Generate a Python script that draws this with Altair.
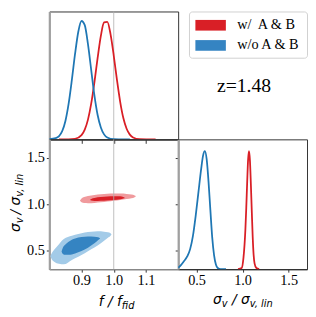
import altair as alt
import pandas as pd

SERIES = ["w/\u00a0 A & B", "w/o A & B"]
Z_LABEL = ["z=1.48"]
F_FID = [1.0]
F_TICKS = [0.9, 1.0, 1.1]
S_TICKS = [0.5, 1.0, 1.5]

# 1D posterior of f/f_fid (normalised to peak)
F_RED_X = [0.83, 0.86, 0.88, 0.90, 0.91, 0.92, 0.93, 0.94, 0.95, 0.96, 0.97, 0.98,
           0.99, 1.00, 1.01, 1.02, 1.03, 1.04, 1.05, 1.06, 1.08, 1.13]
F_RED_D = [0.0, 0.0005, 0.005, 0.036, 0.082, 0.166, 0.30, 0.48, 0.685, 0.87, 0.983, 0.988,
           0.885, 0.705, 0.50, 0.316, 0.177, 0.089, 0.040, 0.016, 0.002, 0.0]
F_BLUE_X = [0.80, 0.82, 0.84, 0.85, 0.86, 0.87, 0.88, 0.89, 0.90, 0.91, 0.92, 0.93,
            0.94, 0.95, 0.96, 0.97, 0.98, 1.00, 1.05]
F_BLUE_D = [0.001, 0.01, 0.07, 0.155, 0.30, 0.50, 0.72, 0.905, 0.995, 0.96, 0.80, 0.585,
            0.37, 0.205, 0.10, 0.042, 0.015, 0.001, 0.0]

# 1D posterior of sigma_v / sigma_v,lin
S_RED_X = [0.95, 0.99, 1.01, 1.03, 1.04, 1.05, 1.06, 1.07, 1.08, 1.09, 1.10, 1.11,
           1.12, 1.13, 1.15, 1.18]
S_RED_D = [0.0, 0.01, 0.10, 0.33, 0.52, 0.74, 0.93, 1.00, 0.92, 0.72, 0.49, 0.27,
           0.12, 0.05, 0.01, 0.0]
S_BLUE_X = [0.30, 0.33, 0.36, 0.40, 0.43, 0.46, 0.49, 0.52, 0.55, 0.57, 0.59, 0.61,
            0.63, 0.65, 0.67, 0.69, 0.71, 0.73, 0.76, 0.82]
S_BLUE_D = [0.012, 0.035, 0.065, 0.11, 0.17, 0.28, 0.45, 0.65, 0.85, 0.96, 1.00, 0.93,
            0.74, 0.50, 0.27, 0.12, 0.04, 0.01, 0.0, 0.0]

# 2D contours: f values with lower / upper sigma edge
RED_OUT_F = [0.895, 0.900, 0.908, 0.92, 0.94, 0.96, 0.98, 1.00, 1.02, 1.04, 1.055, 1.065, 1.069]
RED_OUT_LO = [1.038, 1.022, 1.013, 1.012, 1.015, 1.021, 1.029, 1.038, 1.047, 1.056, 1.066, 1.077, 1.087]
RED_OUT_HI = [1.038, 1.062, 1.078, 1.089, 1.100, 1.108, 1.113, 1.116, 1.116, 1.112, 1.105, 1.095, 1.087]
RED_IN_F = [0.926, 0.930, 0.94, 0.96, 0.98, 1.00, 1.02, 1.03, 1.035]
RED_IN_LO = [1.048, 1.040, 1.036, 1.038, 1.042, 1.047, 1.054, 1.061, 1.068]
RED_IN_HI = [1.048, 1.058, 1.068, 1.078, 1.084, 1.087, 1.086, 1.079, 1.068]
BLUE_OUT_F = [0.803, 0.808, 0.815, 0.83, 0.845, 0.87, 0.89, 0.91, 0.93, 0.95, 0.97, 0.982, 0.990, 0.993]
BLUE_OUT_LO = [0.44, 0.405, 0.38, 0.358, 0.352, 0.40, 0.435, 0.473, 0.515, 0.556, 0.606, 0.638, 0.660, 0.675]
BLUE_OUT_HI = [0.44, 0.475, 0.51, 0.57, 0.625, 0.66, 0.68, 0.695, 0.703, 0.708, 0.705, 0.698, 0.688, 0.675]
BLUE_IN_F = [0.838, 0.842, 0.85, 0.86, 0.88, 0.90, 0.92, 0.94, 0.952, 0.958]
BLUE_IN_LO = [0.49, 0.465, 0.455, 0.455, 0.47, 0.495, 0.532, 0.58, 0.615, 0.632]
BLUE_IN_HI = [0.49, 0.53, 0.565, 0.595, 0.63, 0.646, 0.653, 0.651, 0.645, 0.632]

# axis label pieces (math-style text)
F_LABEL_MAIN = "f / f"
F_LABEL_SUB = "fid"
S_LABEL_1, S_LABEL_2, S_LABEL_3, S_LABEL_4 = "σ", "v", " / σ", "v, lin"

RED, RED_L = "#d91f26", "#f09a9d"
BLUE, BLUE_D, BLUE_L = "#1f77b4", "#3584c2", "#a3cbe8"
LINE_COLORS = [RED, BLUE]
LIGHT_COLORS = [RED_L, BLUE_L]
SPINE_GRAY = "#a0a0a0"
DARK = "#333333"
SERIF = "Liberation Serif"

W, H_TOP, H_BOT = 131, 130, 132


def one(name, xs, ys, xc, yc):
    return pd.DataFrame({xc: xs, yc: ys, "series": name})


def cont(name, fs, lo, hi):
    return pd.DataFrame({"f": fs, "lo": lo, "hi": hi, "series": name})


f_df = pd.concat([one(SERIES[0], F_RED_X, F_RED_D, "f", "d"),
                  one(SERIES[1], F_BLUE_X, F_BLUE_D, "f", "d")])
s_df = pd.concat([one(SERIES[0], S_RED_X, S_RED_D, "s", "d"),
                  one(SERIES[1], S_BLUE_X, S_BLUE_D, "s", "d")])
out_df = pd.concat([cont(SERIES[0], RED_OUT_F, RED_OUT_LO, RED_OUT_HI),
                    cont(SERIES[1], BLUE_OUT_F, BLUE_OUT_LO, BLUE_OUT_HI)])
in_df = pd.concat([cont(SERIES[0], RED_IN_F, RED_IN_LO, RED_IN_HI),
                   cont(SERIES[1], BLUE_IN_F, BLUE_IN_LO, BLUE_IN_HI)])
fid_df = pd.DataFrame({"f": F_FID})
stick_df = pd.DataFrame({"t": S_TICKS})
z_df = pd.DataFrame({"label": Z_LABEL})

dark_scale = alt.Scale(domain=SERIES, range=[RED, BLUE_D])
fx_scale = alt.Scale(domain=[0.8, 1.2], nice=False, zero=False)
s_scale = alt.Scale(domain=[0.3, 1.7], nice=False, zero=False)


def label_layer(txt, x, y, size, align, angle=0):
    return alt.Chart(pd.DataFrame({"t": [txt]})).mark_text(
        font="DejaVu Sans", fontStyle="italic", fontSize=size, align=align,
        baseline="alphabetic", angle=angle, color="black"
    ).encode(text="t:N", x=alt.value(x), y=alt.value(y))


fid_rule = alt.Chart(fid_df).mark_rule(color="#b0b0b0", strokeWidth=0.8)

# ---- top-left: 1D f
tl_x = alt.X("f:Q", scale=fx_scale,
             axis=alt.Axis(values=F_TICKS, labels=False, title=None, tickSize=4,
                           tickColor=DARK, domainColor=DARK, domainWidth=1.2))
tl_y = alt.Y("d:Q", scale=alt.Scale(domain=[0, 1.075], nice=False),
             axis=alt.Axis(ticks=False, labels=False, title=None, domainColor=SPINE_GRAY, domainWidth=2.2))
tl_lines = [
    alt.Chart(f_df).transform_filter(alt.datum.series == name)
    .mark_line(strokeWidth=1.8, interpolate="monotone", clip=True, color=col)
    .encode(x=tl_x, y=tl_y)
    for name, col in zip(SERIES, LINE_COLORS)
]
tl = alt.layer(fid_rule.encode(x=tl_x), *tl_lines).properties(width=W, height=H_TOP)

# ---- top-right: annotation
tr = alt.Chart(z_df).mark_text(font=SERIF, fontSize=20, align="center", baseline="alphabetic",
                               color="black").encode(
    text="label:N", x=alt.value(67), y=alt.value(82)
).properties(width=W, height=H_TOP, view=alt.ViewBackground(strokeOpacity=0))

# ---- bottom-left: 2D contours
bl_x = alt.X("f:Q", scale=fx_scale,
             axis=alt.Axis(values=F_TICKS, format=".1f", title=None, tickSize=3, labelPadding=2,
                           tickColor=DARK, domainColor="#888888", domainWidth=1.2))
bl_y = alt.Y("hi:Q", scale=s_scale, stack=False,
             axis=alt.Axis(values=S_TICKS, format=".1f", title=None, tickSize=3, labelPadding=2,
                           tickColor=DARK, domainColor=SPINE_GRAY, domainWidth=2.2))
legend = alt.Legend(title=None, orient="none", legendX=142, legendY=0, zindex=5,
                    symbolType="M-2,-0.7H2V0.7H-2Z", symbolSize=240, symbolStrokeWidth=0,
                    symbolOffset=8, symbolOpacity=1, labelFont=SERIF, labelFontSize=14.5,
                    labelColor="black", labelOffset=19, padding=6, rowPadding=5.5,
                    strokeColor="#d0d0d0", cornerRadius=3, fillColor="white")
bl_out = [
    alt.Chart(out_df).transform_filter(alt.datum.series == name)
    .mark_area(interpolate="monotone", clip=True, color=col)
    .encode(x=bl_x, y=bl_y, y2="lo:Q")
    for name, col in zip(SERIES, LIGHT_COLORS)
]
bl_in = alt.Chart(in_df).mark_area(interpolate="monotone", clip=True).encode(
    x=bl_x, y=bl_y, y2="lo:Q",
    fill=alt.Fill("series:N", scale=dark_scale, legend=legend),
)
bl = alt.layer(
    *bl_out, bl_in, fid_rule.encode(x=bl_x),
    label_layer(F_LABEL_MAIN, 73.7, 169.5, 14, "right"),
    label_layer(F_LABEL_SUB, 73.7, 172, 10, "left"),
    label_layer(S_LABEL_1, -30.3, 85.3, 14, "right", 270),
    label_layer(S_LABEL_2, -26.3, 85.3, 10, "left", 270),
    label_layer(S_LABEL_3, -30.3, 58.3, 14, "right", 270),
    label_layer(S_LABEL_4, -26.3, 58.3, 10, "left", 270),
).properties(width=W, height=H_BOT)

# ---- bottom-right: 1D sigma
br_x = alt.X("s:Q", scale=s_scale,
             axis=alt.Axis(values=S_TICKS, format=".1f", title=None, tickSize=3, labelPadding=2,
                           tickColor=DARK, domainColor=DARK, domainWidth=1.2))
br_y = alt.Y("d:Q", scale=alt.Scale(domain=[0, 1.1], nice=False), axis=None)
br_lines = [
    alt.Chart(s_df).transform_filter(alt.datum.series == name)
    .mark_line(strokeWidth=1.8, interpolate="monotone", clip=True, color=col)
    .encode(x=br_x, y=br_y)
    for name, col in zip(SERIES, LINE_COLORS)
]
br_ticks = alt.Chart(stick_df).mark_point(opacity=0).encode(
    y=alt.Y("t:Q", scale=s_scale,
            axis=alt.Axis(orient="left", values=S_TICKS, labels=False, title=None, tickSize=3,
                          tickColor=DARK, domainColor=SPINE_GRAY, domainWidth=2.2))
)
br = alt.layer(
    *br_lines, br_ticks,
    label_layer(S_LABEL_1, 44.3, 167.5, 14, "right"),
    label_layer(S_LABEL_2, 44.3, 170, 10, "left"),
    label_layer(S_LABEL_3, 72.7, 167.5, 14, "right"),
    label_layer(S_LABEL_4, 72.7, 170, 10, "left"),
).resolve_scale(y="independent").properties(width=W, height=H_BOT)

chart = alt.concat(
    tl, tr, bl, br, columns=2, spacing=0, bounds="flush", align="each"
).properties(
    padding={"left": 0, "top": 0, "right": 0, "bottom": 0}
).configure_view(
    stroke=DARK, strokeWidth=1
).configure_axis(
    labelFont=SERIF, labelFontSize=14.5, labelColor="black", grid=False
)

chart.save("out.html", embed_options={"renderer": "svg", "actions": False})
